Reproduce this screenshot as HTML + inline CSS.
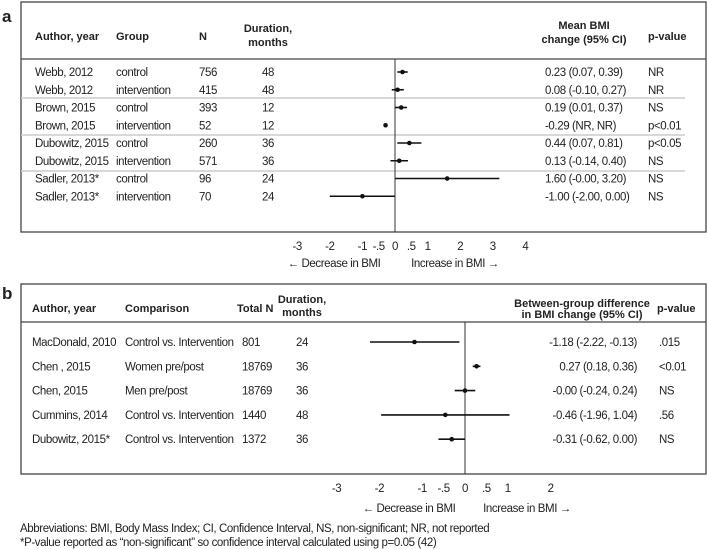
<!DOCTYPE html>
<html><head><meta charset="utf-8"><style>
body{margin:0;background:#fff;}
svg{display:block;font-family:"Liberation Sans",sans-serif;}
.t{font-size:11.5px;fill:#222;letter-spacing:-0.4px;}
.h{font-size:11px;font-weight:bold;fill:#222;}
</style></head><body>
<svg id="c" width="708" height="549"></svg>
<script>
// Panel a data
const aAuthors=["Webb, 2012","Webb, 2012","Brown, 2015","Brown, 2015","Dubowitz, 2015","Dubowitz, 2015","Sadler, 2013*","Sadler, 2013*"];
const aGroups=["control","intervention","control","intervention","control","intervention","control","intervention"];
const aN=["756","415","393","52","260","571","96","70"];
const aDur=["48","48","12","12","36","36","24","24"];
const aMean=[0.23,0.08,0.19,-0.29,0.44,0.13,1.60,-1.00];
const aLo=[0.07,-0.10,0.01,null,0.07,-0.14,-0.00,-2.00];
const aHi=[0.39,0.27,0.37,null,0.81,0.40,3.20,0.00];
const aCI=["0.23 (0.07, 0.39)","0.08 (-0.10, 0.27)","0.19 (0.01, 0.37)","-0.29 (NR, NR)","0.44 (0.07, 0.81)","0.13 (-0.14, 0.40)","1.60 (-0.00, 3.20)","-1.00 (-2.00, 0.00)"];
const aP=["NR","NR","NS","p<0.01","p<0.05","NS","NS","NS"];
const aTicks=[-3,-2,-1,-0.5,0,0.5,1,2,3,4];
const aTickLabels=["-3","-2","-1","-.5","0",".5","1","2","3","4"];
// Panel b data
const bAuthors=["MacDonald, 2010","Chen , 2015","Chen, 2015","Cummins, 2014","Dubowitz, 2015*"];
const bComp=["Control vs. Intervention","Women pre/post","Men pre/post","Control vs. Intervention","Control vs. Intervention"];
const bN=["801","18769","18769","1440","1372"];
const bDur=["24","36","36","48","36"];
const bMean=[-1.18,0.27,-0.00,-0.46,-0.31];
const bLo=[-2.22,0.18,-0.24,-1.96,-0.62];
const bHi=[-0.13,0.36,0.24,1.04,0.00];
const bCI=["-1.18 (-2.22, -0.13)","0.27 (0.18, 0.36)","-0.00 (-0.24, 0.24)","-0.46 (-1.96, 1.04)","-0.31 (-0.62, 0.00)"];
const bP=[".015","<0.01","NS",".56","NS"];
const bTicks=[-3,-2,-1,-0.5,0,0.5,1,2];
const bTickLabels=["-3","-2","-1","-.5","0",".5","1","2"];

const NS="http://www.w3.org/2000/svg";
const svg=document.getElementById('c');
function mk(tag,attrs,parent){const e=document.createElementNS(NS,tag);for(const k in attrs)e.setAttribute(k,attrs[k]);(parent||svg).appendChild(e);return e;}
function txt(x,y,s,cls,anchor,parent){const e=mk('text',{x:x,y:y,class:cls,'text-anchor':anchor||'start'},parent);e.textContent=s;return e;}

const xa=v=>395+v*32.6;
const xb=v=>465+v*42.8;

// Panel a
const ga=mk('g',{});


const la=txt(2,22,"a","h","start",ga);la.style.fontSize="17px";


const ba=mk('rect',{x:21,y:2,width:685,height:230,fill:'none',stroke:'#444','stroke-width':1.3},ga);


mk('line',{x1:21,y1:59,x2:706,y2:59,stroke:'#444','stroke-width':1.3},ga);
[[35,40,"Author, year","start"],[116,40,"Group","start"],[199,40,"N","start"],[268,32,"Duration,","middle"],[268,46,"months","middle"],[584,29,"Mean BMI","middle"],[584,43,"change (95% CI)","middle"],[648,40,"p-value","start"]].forEach(h=>{const e=txt(h[0],h[1],h[2],"h",h[3],ga);

});
[98,135,171].forEach(y=>mk('line',{x1:21,y1:y,x2:685,y2:y,stroke:'#ccc','stroke-width':1.5},ga));
mk('line',{x1:xa(0),y1:59,x2:xa(0),y2:232,stroke:'#333','stroke-width':1},ga);
const aRowY=i=>72+i*17.75;
aAuthors.forEach((a,i)=>{const y=aRowY(i);
 const g=mk('g',{},ga);
 
 
 txt(35,y+4,a,"t","start",g);txt(116,y+4,aGroups[i],"t","start",g);txt(199,y+4,aN[i],"t","start",g);
 txt(268,y+4,aDur[i],"t","middle",g);txt(545,y+4,aCI[i],"t","start",g);txt(648,y+4,aP[i],"t","start",g);
 if(aLo[i]!==null){const l=mk('line',{x1:xa(aLo[i]),y1:y,x2:xa(aHi[i]),y2:y,stroke:'#111','stroke-width':1.6},g);
  
  }
 const p=mk('circle',{cx:xa(aMean[i]),cy:y,r:2.3,fill:'#111'},g);
 
 
});
aTicks.forEach((t,i)=>{const e=txt(xa(t),250,aTickLabels[i],"t","middle",ga);
 
 });
const da=txt(334,267,"← Decrease in BMI","t","middle",ga);


const ia=txt(455,267,"Increase in BMI →","t","middle",ga);



// Panel b
const gb=mk('g',{});


const lb=txt(2,299,"b","h","start",gb);lb.style.fontSize="17px";


const bb=mk('rect',{x:21,y:284,width:685,height:190,fill:'none',stroke:'#444','stroke-width':1.3},gb);


mk('line',{x1:21,y1:322,x2:706,y2:322,stroke:'#444','stroke-width':1.3},gb);
[[32,312,"Author, year","start"],[125,312,"Comparison","start"],[237,312,"Total N","start"],[302,303,"Duration,","middle"],[302,316,"months","middle"],[582,307,"Between-group difference","middle"],[582,318,"in BMI change (95% CI)","middle"],[657,312,"p-value","start"]].forEach(h=>{const e=txt(h[0],h[1],h[2],"h",h[3],gb);

});
mk('line',{x1:xb(0),y1:322,x2:xb(0),y2:474,stroke:'#333','stroke-width':1},gb);
const bRowY=i=>342+i*24.3;
bAuthors.forEach((a,i)=>{const y=bRowY(i);
 const g=mk('g',{},gb);
 
 
 txt(32,y+4,a,"t","start",g);txt(125,y+4,bComp[i],"t","start",g);txt(242,y+4,bN[i],"t","start",g);
 txt(302,y+4,bDur[i],"t","middle",g);txt(637,y+4,bCI[i],"t","end",g);txt(659,y+4,bP[i],"t","start",g);
 const l=mk('line',{x1:xb(bLo[i]),y1:y,x2:xb(bHi[i]),y2:y,stroke:'#111','stroke-width':1.6},g);
 
 
 const p=mk('circle',{cx:xb(bMean[i]),cy:y,r:2.3,fill:'#111'},g);
 
 
});
bTicks.forEach((t,i)=>{const e=txt(xb(t),492,bTickLabels[i],"t","middle",gb);
 
 });
const db=txt(409,512,"← Decrease in BMI","t","middle",gb);


const ib=txt(527,512,"Increase in BMI →","t","middle",gb);



const f1=txt(20,532,"Abbreviations: BMI, Body Mass Index; CI, Confidence Interval, NS, non-significant; NR, not reported","t","start");


const f2=txt(20,546,"*P-value reported as “non-significant” so confidence interval calculated using p=0.05 (42)","t","start");


</script>
</body></html>
